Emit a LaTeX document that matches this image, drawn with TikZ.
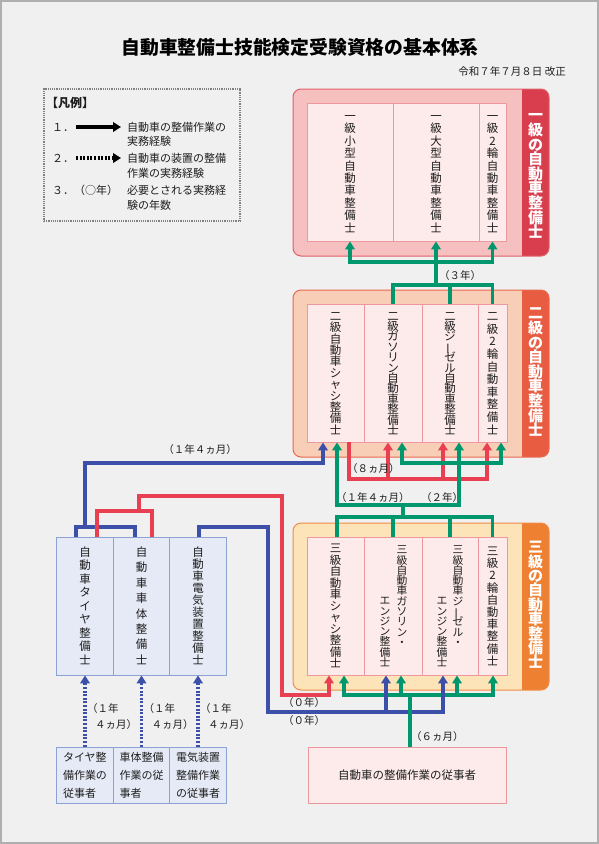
\documentclass[tikz,border=0pt]{standalone}
\usepackage{fontspec}
\setmainfont{Noto Sans CJK JP}
\usepackage{graphicx}
\usetikzlibrary{arrows.meta,calc}
\definecolor{bgc}{RGB}{240,240,240}
\definecolor{framec}{RGB}{175,175,175}
\definecolor{txt}{RGB}{30,30,30}
\definecolor{gC}{RGB}{0,150,110}
\definecolor{rC}{RGB}{232,64,80}
\definecolor{bC}{RGB}{60,80,170}
\definecolor{outA}{RGB}{247,192,192}
\definecolor{bandA}{RGB}{216,62,78}
\definecolor{brdA}{RGB}{226,96,104}
\definecolor{outB}{RGB}{249,206,182}
\definecolor{bandB}{RGB}{232,92,66}
\definecolor{brdB}{RGB}{234,104,80}
\definecolor{outC}{RGB}{253,228,184}
\definecolor{bandC}{RGB}{238,128,50}
\definecolor{brdC}{RGB}{240,140,70}
\definecolor{cellf}{RGB}{253,234,234}
\definecolor{cellb}{RGB}{236,152,158}
\definecolor{bluef}{RGB}{230,234,246}
\definecolor{blueb}{RGB}{140,162,212}
\makeatletter
\newcommand\vt[2]{\vbox{\baselineskip=#1pt\lineskip=0pt\lineskiplimit=-100pt\vt@#2\relax}}
\def\vt@#1{\ifx#1\relax\else\hbox to 1em{\hss\vrule height .88em depth .12em width 0pt\relax#1\hss}\expandafter\vt@\fi}
\makeatother
\def\vbar{\rotatebox[origin=c]{90}{ー}}
\tikzset{
  cell/.style={draw=cellb, fill=cellf, line width=0.8pt, inner sep=0pt, minimum height=138pt, font=\fontsize{11.5}{11.5}\selectfont, text=txt},
  bcell/.style={draw=blueb, fill=bluef, line width=0.8pt, inner sep=0pt, minimum height=138pt, minimum width=56.5pt, font=\fontsize{11.5}{11.5}\selectfont, text=txt},
  lowbox/.style={draw=blueb, fill=bluef, line width=0.8pt, inner sep=0pt, minimum height=56pt, minimum width=56.5pt, align=left, font=\fontsize{11}{18}\selectfont, text=txt},
  coltxt/.style={inner sep=0pt, font=\fontsize{10.8}{10.8}\selectfont, text=txt},
  bandtxt/.style={inner sep=0pt, font=\bfseries\fontsize{15}{15}\selectfont, text=white},
  lab/.style={inner sep=0pt, font=\fontsize{10.5}{12}\selectfont, text=txt},
  lt/.style={inner sep=0pt, anchor=west, font=\fontsize{11}{12}\selectfont, text=txt},
  gl/.style={draw=gC, line width=3.2pt},
  rl/.style={draw=rC, line width=3.2pt},
  bl/.style={draw=bC, line width=3.2pt},
  bd/.style={draw=bC, line width=3.4pt, dash pattern=on 2pt off 1.6pt},
  arr/.style={-{Triangle[width=9.5pt,length=8pt]}},
}
\begin{document}
\begin{tikzpicture}[x=1pt,y=-1pt]
\useasboundingbox (0,0) rectangle (599,844);
\fill[framec] (0,0) rectangle (599,844);
\fill[bgc] (2,2) rectangle (597,842);

% title
\node[font=\bfseries\fontsize{18.8}{20}\selectfont, text=black] (title) at (300,47) {自動車整備士技能検定受験資格の基本体系};
\node[anchor=east, inner sep=0pt, font=\fontsize{10.5}{12}\selectfont, text=txt] (date) at (566,72) {令和７年７月８日 改正};

% legend
\node[draw=gray, densely dotted, line width=1.2pt, minimum width=196pt, minimum height=132pt, inner sep=0pt] (legend) at (142,155) {};
\node[lt, font=\bfseries\fontsize{12}{13}\selectfont] (lg0) at (46,103) {【凡例】};
\node[lt] (n1) at (52,127) {１．};
\coordinate (a1s) at (76,127); \coordinate (a1e) at (121,127);
\draw[black, line width=3.5pt, arr] (a1s) -- (a1e);
\node[lt] (t1) at (127,127) {自動車の整備作業の};
\node[lt] (t1b) at (127,141) {実務経験};
\node[lt] (n2) at (52,158) {２．};
\coordinate (a2s) at (76,158); \coordinate (a2e) at (121,158);
\draw[black, line width=3.5pt, dash pattern=on 2pt off 1.6pt, arr] (a2s) -- (a2e);
\node[lt] (t2) at (127,158) {自動車の装置の整備};
\node[lt] (t2b) at (127,173) {作業の実務経験};
\node[lt] (n3) at (52,190) {３．};
\node[lt] (n3b) at (74,190) {（○年）};
\node[lt] (t3) at (127,190) {必要とされる実務経};
\node[lt] (t3b) at (127,205) {験の年数};

% level boxes
\foreach \yt/\yb/\oc/\bc/\dc in {89/256/outA/bandA/brdA, 290/457/outB/bandB/brdB, 523/690/outC/bandC/brdC}{
  \fill[\oc, rounded corners=8pt] (293,\yt) rectangle (549,\yb);
  \begin{scope}
    \clip[rounded corners=8pt] (293,\yt) rectangle (549,\yb);
    \fill[\bc] (522,\yt) rectangle (549,\yb);
  \end{scope}
  \draw[\dc, line width=1pt, rounded corners=8pt] (293,\yt) rectangle (549,\yb);
}
\node[bandtxt] (h1) at (535.5,173.5) {\vt{14.6}{一級の自動車整備士}};
\node[bandtxt] (h2) at (535.5,371.5) {\vt{14.6}{二級の自動車整備士}};
\node[bandtxt] (h3) at (535.5,604.5) {\vt{14.4}{三級の自動車整備士}};

% level 1 cells
\node[cell, minimum width=86pt] (l1a) at (350,172) {\vt{12.4}{一級小型自動車整備士}};
\node[cell, minimum width=86pt] (l1b) at (436,172) {\vt{12.4}{一級大型自動車整備士}};
\node[cell, minimum width=27pt] (l1c) at (492.5,172) {\vt{12.4}{一級2輪自動車整備士}};
% level 2 cells
\node[cell, minimum width=57pt] (l2a) at (335.5,373) {\vt{11.4}{二級自動車シャシ整備士}};
\node[cell, minimum width=58pt] (l2b) at (393,373) {\vt{10.4}{二級ガソリン自動車整備士}};
\node[cell, minimum width=56pt] (l2c) at (450,373) {\vt{10.4}{二級ジ\vbar ゼル自動車整備士}};
\node[cell, minimum width=29pt] (l2d) at (492.5,373) {\vt{12.6}{二級2輪自動車整備士}};
% level 3 cells
\node[cell, minimum width=57pt] (l3a) at (335.5,606) {\vt{11.5}{三級自動車シャシ整備士}};
\node[cell, minimum width=58pt] (l3b) at (393,606) {};
\node[cell, minimum width=56pt] (l3c) at (450,606) {};
\node[cell, minimum width=29pt] (l3d) at (492.5,606) {\vt{12.2}{三級2輪自動車整備士}};
\node[coltxt, anchor=north] (l3b1) at (402,544) {\vt{10.3}{三級自動車ガソリン・}};
\node[coltxt, anchor=south] (l3b2) at (385,668) {\vt{10.3}{エンジン整備士}};
\node[coltxt, anchor=north] (l3c1) at (458,544) {\vt{10.3}{三級自動車ジ\vbar ゼル・}};
\node[coltxt, anchor=south] (l3c2) at (442,668) {\vt{10.3}{エンジン整備士}};

% left cells
\node[bcell] (ta) at (85,606) {\vt{13.5}{自動車タイヤ整備士}};
\node[bcell] (tb) at (141.5,606) {\vt{15.4}{自動車車体整備士}};
\node[bcell] (tc) at (198,606) {\vt{12}{自動車電気装置整備士}};
\node[lowbox] (ua) at (85,775) {タイヤ整\\備作業の\\従事者};
\node[lowbox] (ub) at (141.5,775) {車体整備\\作業の従\\事者};
\node[lowbox] (uc) at (198,775) {電気装置\\整備作業\\の従事者};
\node[draw=cellb, fill=cellf, line width=0.8pt, minimum width=198pt, minimum height=56pt, font=\fontsize{11.5}{12}\selectfont, text=txt] (bot) at (407,775) {自動車の整備作業の従事者};

% dotted arrows
\draw[bd, arr] (ua.north) -- (ta.south);
\draw[bd, arr] (ub.north) -- (tb.south);
\draw[bd, arr] (uc.north) -- (tc.south);
\foreach \dx/\nm in {0/p,56.5/q,113/r}{
  \node[lab, anchor=west] (\nm1) at (87+\dx,709) {（１年};
  \node[lab, anchor=west] (\nm2) at (95+\dx,724) {４ヵ月）};
}

% green: level 2 -> level 1
\coordinate (j1) at (436,285);
\coordinate (j2) at (436,262);
\draw[gl] (l2b.north) |- (j1);
\draw[gl] (l2c.north) |- (j1);
\draw[gl] (l2d.north) |- (j1);
\draw[gl] (j1) -- (j2);
\draw[gl, arr] (j2) -| (l1a.south);
\draw[gl, arr] (j2) -- (l1b.south);
\draw[gl, arr] (j2) -| (l1c.south);
\node[lab, anchor=west] (lb3) at (439,276) {（３年）};

% red: level 2 chassis -> others
\coordinate (r1) at (349,479);
\draw[rl, arr] ([xshift=13.5pt]l2a.south) -- (r1) -| ([xshift=-5pt]l2b.south);
\draw[rl, arr] (r1) -| ([xshift=-7pt]l2c.south);
\draw[rl, arr] (r1) -| ([xshift=-5.5pt]l2d.south);
\node[lab, anchor=west] (lb8) at (347,469) {（８ヵ月）};

% green: level 3 -> level 2
\coordinate (k1) at (403,517);
\coordinate (k2) at (403,505);
\coordinate (k4) at (459,463);
\draw[gl] ([xshift=1.5pt]l3a.north) |- (k1);
\draw[gl] (l3b.north) |- (k1);
\draw[gl] (l3c.north) |- (k1);
\draw[gl] (l3d.north) |- (k1);
\draw[gl] (k1) -- (k2);
\draw[gl, arr] (k2) -| ([xshift=1.5pt]l2a.south);
\draw[gl, arr] (k2) -| ([xshift=9pt]l2c.south);
\draw[gl, arr] (k4) -| ([xshift=9pt]l2b.south);
\draw[gl, arr] (k4) -| ([xshift=8.5pt]l2d.south);
\node[lab, anchor=west] (lb14) at (336,498) {（１年４ヵ月）};
\node[lab, anchor=west] (lb2) at (421,498) {（２年）};

% blue from tire/body to level 2
\coordinate (b1) at (85,527);
\coordinate (b2) at (85,463);
\draw[bl] ([xshift=-9pt]ta.north) |- (b1);
\draw[bl] ([xshift=-6.5pt]tb.north) |- (b1);
\draw[bl, arr] (b1) -- (b2) -| ([xshift=-12.5pt]l2a.south);
\node[lab] (lbt) at (200,450) {（１年４ヵ月）};

% green: bottom -> level 3 (bracket)
\coordinate (m1) at (410,695);
\draw[gl, arr] (m1) -| ([xshift=8.5pt]l3a.south);
\draw[gl, arr] (m1) -| ([xshift=8pt]l3b.south);
\draw[gl, arr] (m1) -| ([xshift=7pt]l3c.south);
\draw[gl, arr] (m1) -| ([xshift=0.5pt]l3d.south);

% blue from electrical to level 3
\coordinate (b3) at (268,527);
\coordinate (b4) at (268,712);
\draw[bl, arr] ([xshift=1pt]tc.north) |- (b3) -- (b4) -| ([xshift=-7pt]l3b.south);
\draw[bl, arr] (b4) -| ([xshift=-7pt]l3c.south);
\node[lab, anchor=west] (lb0b) at (283,721) {（０年）};

% green trunk from bottom box
\draw[gl] ([xshift=3pt]bot.north) -- (m1);
\node[lab, anchor=west] (lb6) at (411,737) {（６ヵ月）};

% red from tire/body to level 3
\coordinate (r2) at (139,511);
\coordinate (r3) at (139,496);
\coordinate (r4) at (282,695);
\draw[rl] ([xshift=12pt]ta.north) |- (r2);
\draw[rl] ([xshift=10.5pt]tb.north) |- (r2);
\draw[rl, arr] (r2) -- (r3) -| (r4) -| ([xshift=-6.5pt]l3a.south);
\node[lab, anchor=west] (lb0r) at (283,703) {（０年）};
\end{tikzpicture}
\end{document}
